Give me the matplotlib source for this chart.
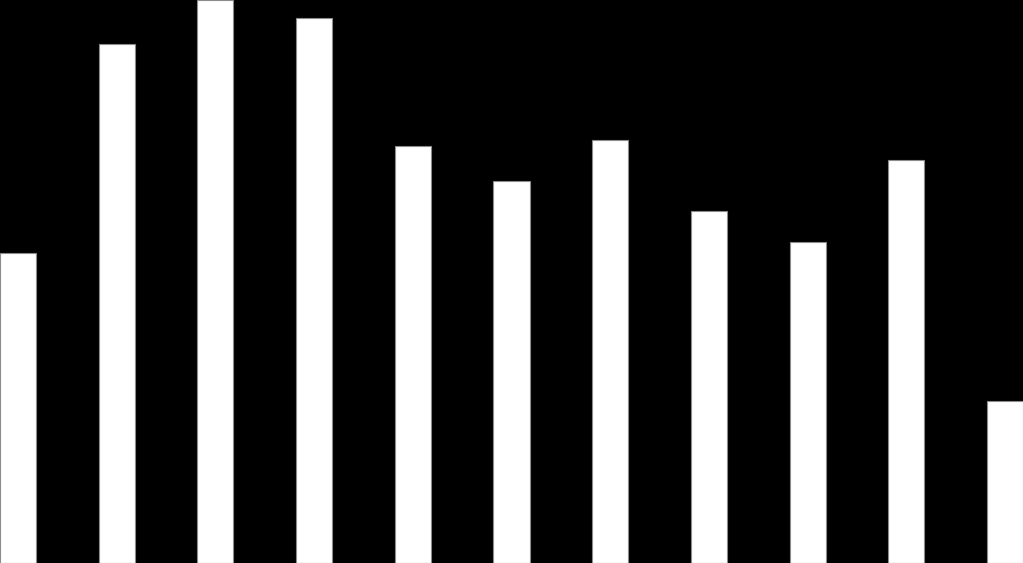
import numpy as np
import matplotlib
matplotlib.use("Agg")
import matplotlib.pyplot as plt

# bar heights (pixel units, bottom = 0)
categories = list(range(11))
values = [310, 519, 563, 545, 417, 382, 423, 352, 321, 403, 162]

W, H = 1023, 563
fig = plt.figure(figsize=(W / 100, H / 100), dpi=100, facecolor="black")
ax = fig.add_axes([0, 0, 1, 1])
ax.set_facecolor("black")

width = 0.365
ax.bar(categories, values, width=width, color="white", edgecolor="#8c8c8c", linewidth=0.8)

ax.set_xlim(-width / 2, categories[-1] + width / 2)
ax.set_ylim(0, 563)
ax.axis("off")

fig.savefig("out.png", dpi=100, facecolor="black")
